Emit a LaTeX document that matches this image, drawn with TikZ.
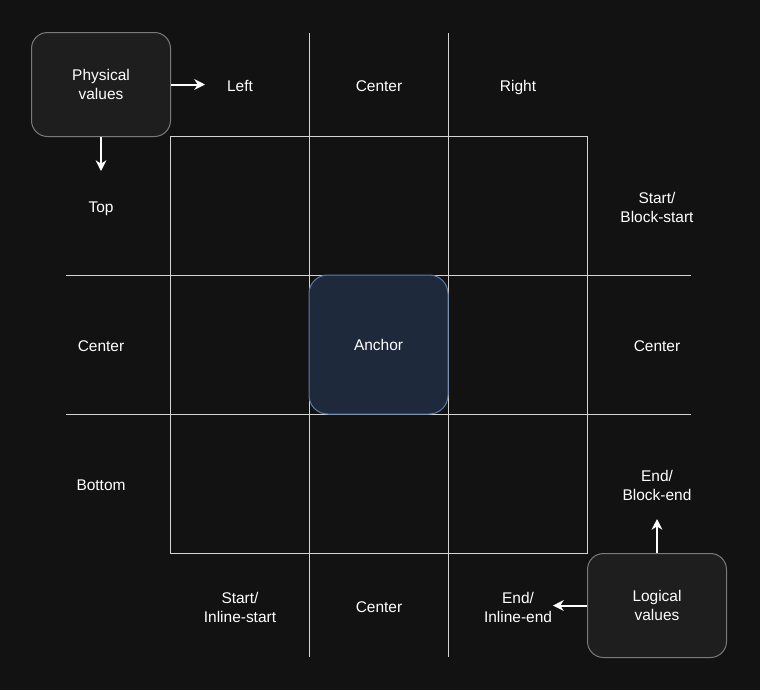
\documentclass[tikz,border=0pt]{standalone}
\usepackage{fontspec}
\setmainfont{Liberation Sans}
\usetikzlibrary{arrows.meta}
\definecolor{bg}{HTML}{121212}
\definecolor{gridc}{HTML}{D4D4D4}
\definecolor{boxfill}{HTML}{1E1E1E}
\definecolor{boxline}{HTML}{7A7A7A}
\definecolor{anchorfill}{HTML}{1E2A3C}
\definecolor{anchorline}{HTML}{5A7AA8}
\tikzset{
  lbl/.style={text=white, align=center, font=\fontsize{11.6}{14.2}\selectfont},
  one/.style={lbl, text height=0.72em, text depth=0.22em, yshift=-2pt},
  two/.style={lbl, yshift=-0.8pt},
  valbox/.style={draw=boxline, fill=boxfill, rounded corners=12pt, line width=0.75pt, minimum width=139*0.75pt, minimum height=104*0.75pt, lbl},
  gridline/.style={draw=gridc, line width=0.75pt},
  arr/.style={draw=white, line width=1.5pt, -{Stealth[length=8pt,width=8pt,inset=2.5pt]}}
}
\begin{document}
\begin{tikzpicture}[x=0.75pt,y=-0.75pt]
\fill[bg] (0,0) rectangle (760,690);
\useasboundingbox (0,0) rectangle (760,690);
% grid
\draw[gridline] (170,136) rectangle (587,553);
\draw[gridline] (309,33) -- (309,657);
\draw[gridline] (448,33) -- (448,657);
\draw[gridline] (66,275) -- (691,275);
\draw[gridline] (66,414) -- (691,414);
% anchor
\node[draw=anchorline, fill=anchorfill, rounded corners=14pt, line width=0.75pt, minimum width=139*0.75pt, minimum height=139*0.75pt, lbl] (anchor) at (378.5,344.5) {Anchor};
% value boxes
\node[valbox] (phys) at (101,84.5) {Physical\\values};
\node[valbox] (logi) at (657,605.5) {Logical\\values};
% labels
\node[one] (left) at (240,85) {Left};
\node[one] (ctop) at (379,85) {Center};
\node[one] (right) at (518,85) {Right};
\node[one] (top) at (101,206) {Top};
\node[one] (cleft) at (101,345) {Center};
\node[one] (bottom) at (101,484) {Bottom};
\node[two] (bstart) at (657,206) {Start/\\Block-start};
\node[one] (cright) at (657,345) {Center};
\node[two] (bend) at (657,484) {End/\\Block-end};
\node[two] (istart) at (240,606) {Start/\\Inline-start};
\node[one] (cbot) at (379,606) {Center};
\node[two] (iend) at (518,606) {End/\\Inline-end};
% arrows
\coordinate (pr) at (205,84.5);
\coordinate (pd) at (101,171);
\coordinate (ll) at (553,605.5);
\coordinate (lu) at (657,519);
\draw[arr] (phys.east) -- (pr);
\draw[arr] (phys.south) -- (pd);
\draw[arr] (logi.west) -- (ll);
\draw[arr] (logi.north) -- (lu);
\end{tikzpicture}
\end{document}
